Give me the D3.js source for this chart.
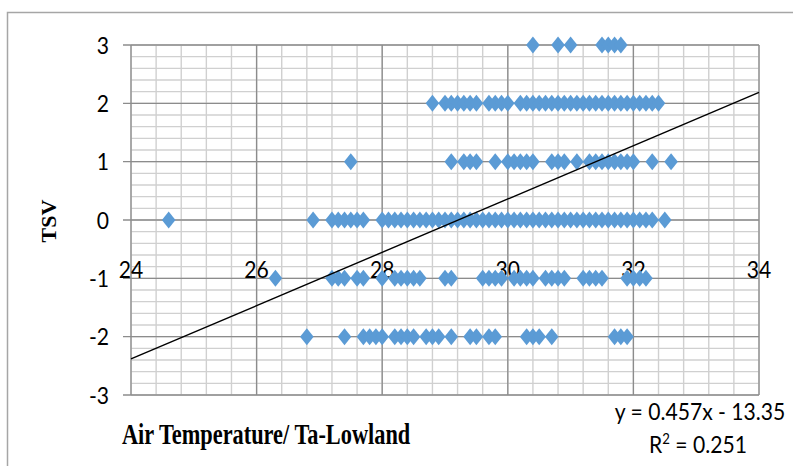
<!DOCTYPE html>
<html>
<meta charset="utf-8">
<style>
  body { margin: 0; background: #fff; }
  .tick-label { font-family: Lato, "Open Sans", sans-serif; font-size: 24px; fill: #000; }
  .axis-title { font-family: "Liberation Serif", "Times New Roman", serif; font-weight: bold; fill: #000; }
  .point { fill: #5b9bd5; }
</style>
<body>
  <script src="https://d3js.org/d3.v7.min.js"></script>
  <script>
    // TSV level -> air temperatures (Ta-Lowland)
    let tsvLevels = [3, 2, 1, 0, -1, -2];

    let tempsTsvPlus3 = [30.4, 30.8, 31.0, 31.5, 31.6, 31.7, 31.8];
    let tempsTsvPlus2 = [28.8, 29.0, 29.1, 29.2, 29.3, 29.4, 29.5, 29.7, 29.8, 29.9, 30.0,
      30.2, 30.3, 30.4, 30.5, 30.6, 30.7, 30.8, 30.9, 31.0, 31.1, 31.2, 31.3, 31.4, 31.5,
      31.6, 31.7, 31.8, 31.9, 32.0, 32.1, 32.2, 32.3, 32.4];
    let tempsTsvPlus1 = [27.5, 29.1, 29.3, 29.4, 29.5, 29.8, 30.0, 30.1, 30.2, 30.3, 30.4,
      30.7, 30.8, 30.9, 31.1, 31.3, 31.4, 31.5, 31.6, 31.7, 31.8, 31.9, 32.0, 32.3, 32.6];
    let tempsTsvZero = [24.6, 26.9, 27.2, 27.3, 27.4, 27.5, 27.6, 27.7,
      28.0, 28.1, 28.2, 28.3, 28.4, 28.5, 28.6, 28.7, 28.8, 28.9, 29.0, 29.1, 29.2, 29.3,
      29.4, 29.5, 29.6, 29.7, 29.8, 29.9, 30.0, 30.1, 30.2, 30.3, 30.4, 30.5, 30.6, 30.7,
      30.8, 30.9, 31.0, 31.1, 31.2, 31.3, 31.4, 31.5, 31.6, 31.7, 31.8, 31.9, 32.0, 32.1,
      32.2, 32.3, 32.5];
    let tempsTsvMinus1 = [26.3, 27.2, 27.3, 27.4, 27.6, 27.7, 28.0, 28.2, 28.3, 28.4, 28.5,
      28.6, 29.0, 29.1, 29.6, 29.7, 29.8, 29.9, 30.1, 30.2, 30.3, 30.4, 30.6, 30.7, 30.8,
      30.9, 31.2, 31.3, 31.4, 31.5, 31.9, 32.0, 32.1, 32.2];
    let tempsTsvMinus2 = [26.8, 27.4, 27.7, 27.8, 27.9, 28.0, 28.2, 28.3, 28.4, 28.5, 28.7,
      28.8, 28.9, 29.1, 29.4, 29.5, 29.7, 29.8, 30.3, 30.4, 30.5, 30.7, 31.7, 31.8, 31.9];

    let xTickValues = [24, 26, 28, 30, 32, 34];
    let yTickValues = [-3, -2, -1, 0, 1, 2, 3];

    // linear trendline from the chart
    let trendSlope = 0.457, trendIntercept = -13.35, rSquared = 0.251;

    let width = 793,
      height = 466;

    let x = d3.scaleLinear().domain([24, 34]).range([131, 759]);
    let y = d3.scaleLinear().domain([-3, 3]).range([395, 45]);

    let svg = d3.select("body").append("svg")
      .attr("width", width)
      .attr("height", height);

    // labels are a bit condensed, like the original font
    let squeeze = 0.88;

    // chart frame (only top and left edges fall inside the picture)
    svg.append("rect")
      .attr("x", 7.5).attr("y", 12.5)
      .attr("width", 820).attr("height", 500)
      .attr("fill", "none").attr("stroke", "#a6a6a6").attr("stroke-width", 1.5);

    // minor gridlines
    svg.append("g")
      .selectAll("line")
      .data(d3.range(24, 34.001, 0.4))
      .join("line")
      .attr("x1", d => x(d)).attr("x2", d => x(d))
      .attr("y1", y(3)).attr("y2", y(-3))
      .attr("stroke", "#d0d0d0").attr("stroke-width", 1.4);

    svg.append("g")
      .selectAll("line")
      .data(d3.range(-3, 3.001, 0.2))
      .join("line")
      .attr("x1", x(24)).attr("x2", x(34))
      .attr("y1", d => y(d)).attr("y2", d => y(d))
      .attr("stroke", "#d0d0d0").attr("stroke-width", 1.4);

    // major gridlines
    svg.append("g")
      .selectAll("line")
      .data(xTickValues)
      .join("line")
      .attr("x1", d => x(d)).attr("x2", d => x(d))
      .attr("y1", y(3)).attr("y2", y(-3))
      .attr("stroke", "#8c8c8c").attr("stroke-width", 1.3);

    svg.append("g")
      .selectAll("line")
      .data(yTickValues)
      .join("line")
      .attr("x1", x(24) - 8).attr("x2", x(34))
      .attr("y1", d => y(d)).attr("y2", d => y(d))
      .attr("stroke", "#8c8c8c").attr("stroke-width", 1.3);

    // y tick labels
    svg.append("g")
      .selectAll("text")
      .data(yTickValues)
      .join("text")
      .attr("class", "tick-label")
      .attr("transform", d => "translate(" + (x(24) - 22) + "," + y(d) + ") scale(" + squeeze + ",1)")
      .attr("dy", "0.36em")
      .attr("text-anchor", "end")
      .text(d => d);

    // x tick labels sit below the zero line
    svg.append("g")
      .selectAll("text")
      .data(xTickValues)
      .join("text")
      .attr("class", "tick-label")
      .attr("transform", d => "translate(" + x(d) + "," + y(-1) + ") scale(" + squeeze + ",1)")
      .attr("text-anchor", "middle")
      .text(d => d);

    // points
    let diamond = "M0,-8.5L6.8,0L0,8.5L-6.8,0Z";
    let rows = [tempsTsvPlus3, tempsTsvPlus2, tempsTsvPlus1, tempsTsvZero, tempsTsvMinus1, tempsTsvMinus2];
    let points = [];
    rows.forEach((temps, i) => temps.forEach(t => points.push({ temp: t, tsv: tsvLevels[i] })));

    svg.append("g")
      .selectAll("path")
      .data(points)
      .join("path")
      .attr("class", "point")
      .attr("d", diamond)
      .attr("transform", d => "translate(" + x(d.temp) + "," + y(d.tsv) + ")");

    // trendline
    svg.append("line")
      .attr("x1", x(24)).attr("y1", y(trendSlope * 24 + trendIntercept))
      .attr("x2", x(34)).attr("y2", y(trendSlope * 34 + trendIntercept))
      .attr("stroke", "#000").attr("stroke-width", 1.4);

    // axis titles
    svg.append("text")
      .attr("class", "axis-title")
      .attr("transform", "translate(56,221) rotate(-90)")
      .attr("text-anchor", "middle")
      .attr("font-size", 22)
      .text("TSV");

    svg.append("text")
      .attr("class", "axis-title")
      .attr("transform", "translate(122,444) scale(0.77,1)")
      .attr("font-size", 29)
      .text("Air Temperature/ Ta-Lowland");

    // trendline equation
    svg.append("text")
      .attr("class", "tick-label")
      .attr("transform", "translate(700,420) scale(" + squeeze + ",1)")
      .attr("text-anchor", "middle")
      .text("y = " + trendSlope + "x - " + Math.abs(trendIntercept));

    let r2 = svg.append("text")
      .attr("class", "tick-label")
      .attr("transform", "translate(698,453) scale(" + squeeze + ",1)")
      .attr("text-anchor", "middle");
    r2.append("tspan").text("R");
    r2.append("tspan").attr("dy", -9).attr("font-size", 15).text("2");
    r2.append("tspan").attr("dy", 9).text(" = " + rSquared);
  </script>
</body>
</html>
